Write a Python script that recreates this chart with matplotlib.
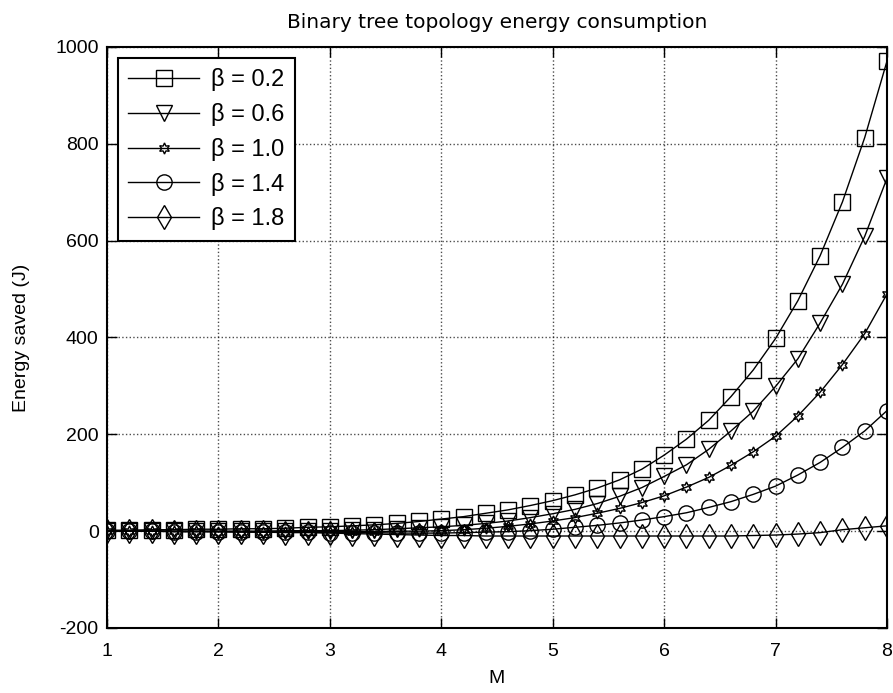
import matplotlib.pyplot as plt
import numpy as np

plt.rcParams['font.family'] = ['Liberation Sans', 'DejaVu Sans']
plt.rcParams['axes.unicode_minus'] = False

# x values: M from 1 to 8 in steps of 0.2
m_vals = [1.0, 1.2, 1.4, 1.6, 1.8, 2.0, 2.2, 2.4, 2.6, 2.8, 3.0, 3.2, 3.4, 3.6, 3.8,
          4.0, 4.2, 4.4, 4.6, 4.8, 5.0, 5.2, 5.4, 5.6, 5.8, 6.0, 6.2, 6.4, 6.6, 6.8,
          7.0, 7.2, 7.4, 7.6, 7.8, 8.0]

beta_02 = [2, 2, 3, 3, 4, 4, 5, 5, 6, 8, 9, 11, 13, 16, 20,
           25, 30, 37, 44, 53, 63, 75, 89, 106, 128, 157, 190, 229, 278, 333,
           398, 476, 569, 680, 813, 971]
beta_06 = [0, 0, 0, 0, 0, 0, 0, 0, 1, 1, 1, 2, 3, 5, 7,
           9, 12, 16, 21, 28, 36, 45, 57, 72, 90, 113, 137, 169, 207, 248,
           299, 356, 430, 510, 609, 729]
beta_10 = [0, 0, 0, 0, 0, -1, -1, -1, -1, -1, -1, -1, -1, 0, 0,
           1, 3, 6, 10, 15, 21, 28, 37, 47, 59, 73, 91, 111, 136, 164,
           196, 238, 287, 344, 408, 490]
beta_14 = [0, 0, 0, -1, -1, -1, -1, -2, -2, -2, -3, -3, -3, -4, -4,
           -4, -3, -2, -1, 1, 4, 8, 12, 17, 23, 30, 38, 49, 61, 76,
           93, 116, 142, 173, 207, 249]
beta_18 = [0, 0, 0, -1, -1, -1, -2, -2, -3, -3, -4, -5, -6, -7, -8,
           -9, -9, -10, -10, -10, -10, -10, -10, -10, -10, -10, -10, -10, -10, -9,
           -8, -6, -3, 3, 7, 11]

labels = ['β = 0.2', 'β = 0.6', 'β = 1.0', 'β = 1.4', 'β = 1.8']

hexagram = (6, 1, 0)
series = [
    (beta_02, 's', 11),
    (beta_06, 'v', 11),
    (beta_10, hexagram, 8),
    (beta_14, 'o', 11),
    (beta_18, 'd', 12),
]

fig = plt.figure(figsize=(8.93, 6.93), dpi=100)
ax = fig.add_axes([0.1198, 0.0938, 0.8735, 0.8384])

for (vals, mk, ms), lab in zip(series, labels):
    ax.plot(m_vals, vals, color='black', linewidth=1, marker=mk, markersize=ms,
            markerfacecolor='none', markeredgecolor='black', markeredgewidth=1,
            label=lab)

ax.set_xlim(1, 8)
ax.set_ylim(-200, 1000)
ax.set_xticks(range(1, 9))
ax.set_yticks(range(-200, 1001, 200))

ax.grid(True, linestyle=':', color='black', linewidth=1, alpha=0.7)
ax.tick_params(direction='in', top=True, right=True, length=7, width=1,
               labelsize=14)
ax.tick_params(axis='x', pad=11)
ax.tick_params(axis='y', pad=6)
for sp in ax.spines.values():
    sp.set_linewidth(1.5)

ax.set_title('Binary tree topology energy consumption', fontsize=14.5,
             family='DejaVu Sans', pad=14)
ax.set_xlabel('M', fontsize=14, labelpad=7)
ax.set_ylabel('Energy saved (J)', fontsize=14, labelpad=18)

leg = ax.legend(loc='upper left', fontsize=17, fancybox=False, framealpha=1,
                edgecolor='black', borderaxespad=0.45, handlelength=3.0,
                labelspacing=0.5, borderpad=0.45, handletextpad=0.5)
leg.get_frame().set_linewidth(1.5)

fig.savefig('out.png', dpi=100)
